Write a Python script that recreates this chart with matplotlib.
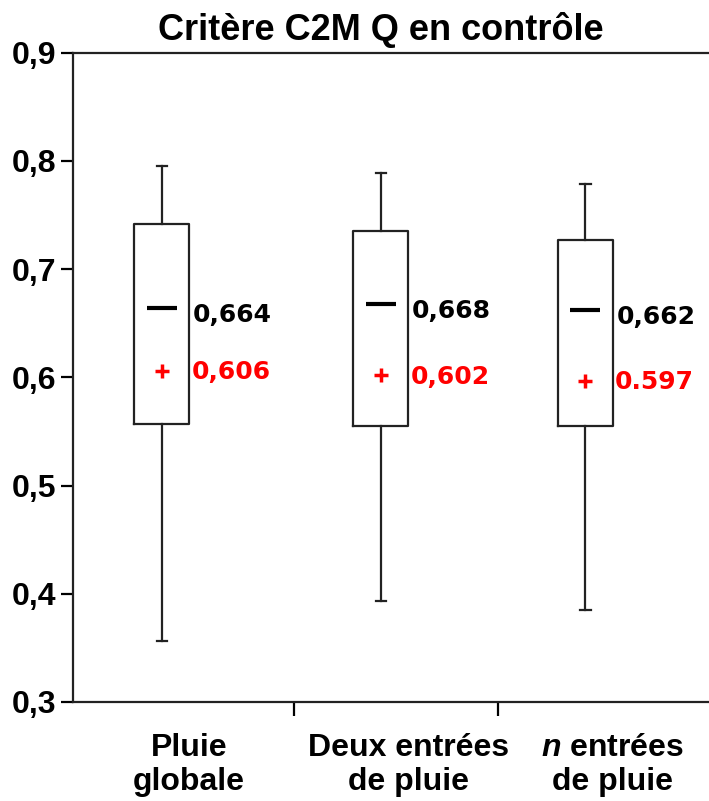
import matplotlib
matplotlib.use("Agg")
import matplotlib.pyplot as plt
from matplotlib.ticker import FuncFormatter, FixedLocator

plt.rcParams["font.family"] = ["Liberation Sans", "DejaVu Sans"]
plt.rcParams["font.weight"] = "bold"
plt.rcParams["mathtext.fontset"] = "custom"
plt.rcParams["mathtext.it"] = "Liberation Sans:italic:bold"
plt.rcParams["mathtext.rm"] = "Liberation Sans:bold"

# ── data ────────────────────────────────────────────────────────────────────
categories = ["Pluie\nglobale", "Deux entrées\nde pluie", "$\\mathit{n}$ entrées\nde pluie"]
whisker_low = [0.356, 0.393, 0.385]
q1 = [0.557, 0.555, 0.555]
medians = [0.664, 0.668, 0.662]
q3 = [0.742, 0.735, 0.727]
whisker_high = [0.795, 0.789, 0.779]
means = [0.606, 0.602, 0.597]
median_labels = ["0,664", "0,668", "0,662"]
mean_labels = ["0,606", "0,602", "0.597"]

# layout
positions = [1.0, 2.0, 2.935]
label_pos = [1.125, 2.125, 3.06]
separators = [1.604, 2.537]

stats = []
for i in range(len(categories)):
    stats.append(dict(whislo=whisker_low[i], q1=q1[i], med=medians[i],
                      q3=q3[i], whishi=whisker_high[i], mean=means[i],
                      fliers=[]))

fig = plt.figure(figsize=(7.09, 8.01), dpi=100)
ax = fig.add_axes([0.1034, 0.1236, 0.8966, 0.8106])

line_kw = dict(color="#222222", linewidth=1.6)
ax.bxp(stats, positions=positions, widths=0.251, showmeans=False,
       boxprops=line_kw, whiskerprops=line_kw, capprops=line_kw,
       medianprops=dict(linewidth=0), capwidths=0.046, manage_ticks=False)

ax.plot(positions, medians, linestyle="none", marker="_", ms=21, mew=3, color="black")
ax.plot(positions, means, linestyle="none", marker="+", ms=10, mew=2.5, color="red")

for x, m, mu, ml, mul in zip(positions, medians, means, median_labels, mean_labels):
    ax.text(x + 0.142, m - 0.0065, ml, ha="left", va="center", fontsize=18,
            fontweight="bold", family="DejaVu Sans", color="black")
    ax.text(x + 0.135, mu - 0.0015, mul, ha="left", va="center", fontsize=18,
            fontweight="bold", family="DejaVu Sans", color="red")

ax.set_xlim(0.596, 3.499)
ax.set_ylim(0.3, 0.9)
ax.set_yticks([0.3, 0.4, 0.5, 0.6, 0.7, 0.8, 0.9])
ax.yaxis.set_major_formatter(FuncFormatter(lambda v, p: f"{v:.1f}".replace(".", ",")))

ax.xaxis.set_major_locator(FixedLocator(separators))
ax.xaxis.set_major_formatter(FuncFormatter(lambda v, p: ""))
ax.xaxis.set_minor_locator(FixedLocator(label_pos))
ax.set_xticklabels(categories, minor=True)
ax.tick_params(axis="x", which="minor", length=0, pad=22, labelsize=23)
ax.tick_params(axis="x", which="major", length=10, width=1.6, direction="out")
ax.tick_params(axis="y", length=9, width=1.6, direction="out", labelsize=23, pad=3)
for lbl in ax.get_xticklabels(minor=True):
    lbl.set_linespacing(1.2)

ax.spines["right"].set_visible(False)
for s in ("left", "top", "bottom"):
    ax.spines[s].set_linewidth(1.6)
    ax.spines[s].set_color("#222222")

fig.text(381 / 709, 1 - 30 / 801, "Critère C2M Q en contrôle", ha="center",
         va="center", fontsize=26, fontweight="bold")

fig.savefig("out.png", dpi=100)
